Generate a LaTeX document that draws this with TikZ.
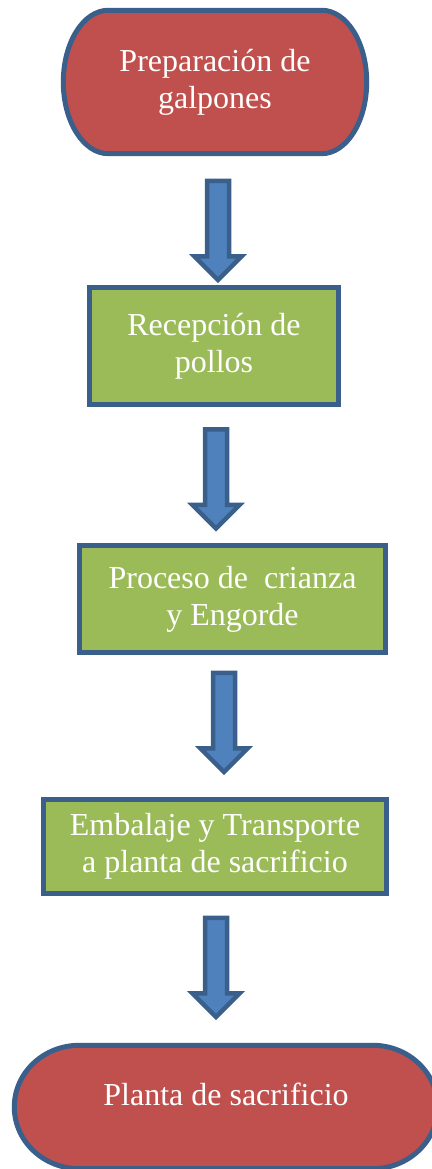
\documentclass[tikz,border=0pt]{standalone}
\usepackage{fontspec}
\setmainfont{Liberation Serif}
\usetikzlibrary{shapes.arrows,calc,backgrounds}

\definecolor{borde}{HTML}{3A5F8B}
\definecolor{rojo}{HTML}{C0504D}
\definecolor{verde}{HTML}{9BBB59}
\definecolor{azul}{HTML}{4F81BD}

% outline of a terminal node: flat top and bottom, half-ellipse ends
\newcommand{\bordeterm}[2]{%
	\path let \p1 = ($(#1.north)-(#1.center)$) in
		[draw=borde, fill=rojo, line width=5pt]
		($(#1.north west)+(#2,0)$) -- ($(#1.north east)+(-#2,0)$)
		arc[start angle=90, end angle=-90, x radius=#2pt, y radius=\y1]
		-- ($(#1.south west)+(#2,0)$)
		arc[start angle=270, end angle=90, x radius=#2pt, y radius=\y1] -- cycle;}

\begin{document}
\begin{tikzpicture}[x=1pt, y=1pt,
	texto/.style = {text=white, align=center, inner sep=0pt, font=\fontsize{32}{37}\selectfont},
	term/.style = {texto, rectangle},
	caja/.style = {texto, rectangle, draw=borde, fill=verde, line width=5pt},
	flecha/.style = {single arrow, draw=borde, fill=azul, line width=4.5pt, shape border rotate=270,
		inner sep=8.75pt, single arrow head extend=12.5pt, minimum height=99pt}]
	\useasboundingbox (0,0) rectangle (431,1169);

	\node[term, minimum width=303pt, minimum height=143pt] (galpones) at (215,1087) {Preparación de\\galpones};
	\node[caja, minimum width=249pt, minimum height=117pt] (recepcion) at (214,823) {Recepción de\\pollos};
	\node[caja, minimum width=306pt, minimum height=107pt] (crianza) at (232.5,570) {Proceso de~ crianza\\y Engorde};
	\node[caja, minimum width=343pt, minimum height=94pt] (embalaje) at (215,322.5) {Embalaje y Transporte\\a planta de sacrificio};
	\node[term, minimum width=423pt, minimum height=123pt, text depth=26pt] (planta) at (226,62) {Planta de sacrificio};

	\begin{scope}[on background layer]
		\bordeterm{galpones}{45}
		\bordeterm{planta}{65}
	\end{scope}

	\node[flecha] (f1) at (218,944) {};
	\node[flecha] (f2) at (216,695.5) {};
	\node[flecha] (f3) at (224,452) {};
	\node[flecha] (f4) at (216,207) {};
\end{tikzpicture}
\end{document}
